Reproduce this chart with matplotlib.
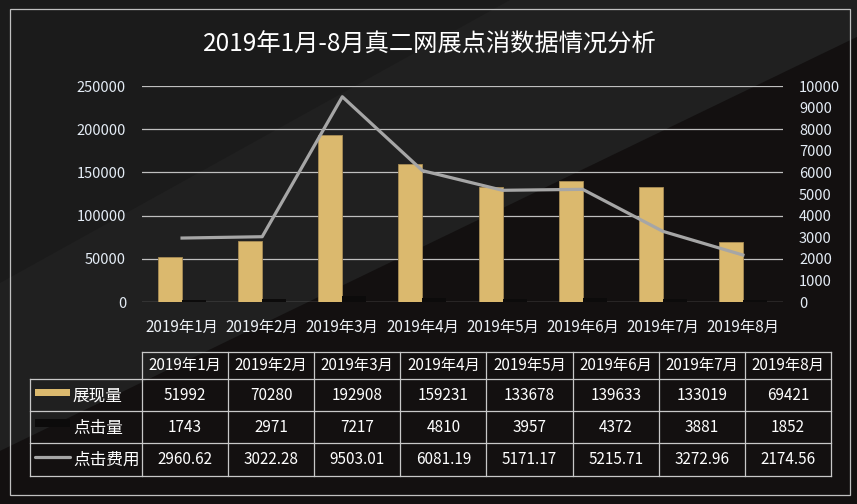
import numpy as np
import matplotlib
matplotlib.use("Agg")
import matplotlib.pyplot as plt
from matplotlib.patches import Polygon, Rectangle

plt.rcParams['font.family'] = ['Noto Sans CJK SC', 'DejaVu Sans']

# ---- data ----
months = ["2019年1月", "2019年2月", "2019年3月", "2019年4月",
          "2019年5月", "2019年6月", "2019年7月", "2019年8月"]
impressions = [51992, 70280, 192908, 159231, 133678, 139633, 133019, 69421]
clicks = [1743, 2971, 7217, 4810, 3957, 4372, 3881, 1852]
cost = [2960.62, 3022.28, 9503.01, 6081.19, 5171.17, 5215.71, 3272.96, 2174.56]
cost_labels = ["2960.62", "3022.28", "9503.01", "6081.19",
               "5171.17", "5215.71", "3272.96", "2174.56"]
series_names = ["展现量", "点击量", "点击费用"]
title = "2019年1月-8月真二网展点消数据情况分析"

W, H = 857, 504
fig = plt.figure(figsize=(W / 100, H / 100), dpi=100)

# ---- background (pixel coordinates) ----
bg = fig.add_axes([0, 0, 1, 1], zorder=0)
bg.set_xlim(0, W)
bg.set_ylim(H, 0)
bg.axis('off')
bg.add_patch(Rectangle((0, 0), W, H, facecolor='#1b1b1b', edgecolor='none'))
bg.add_patch(Polygon([(0, 283), (510, 0), (W, 0), (W, 37), (0, 451)],
                     closed=True, facecolor='#202020', edgecolor='none'))
bg.add_patch(Polygon([(0, 451), (W, 37), (W, H), (0, H)],
                     closed=True, facecolor='#131010', edgecolor='none'))
bg.add_patch(Rectangle((10, 9), 840, 486, facecolor='none',
                       edgecolor='#c0c0c0', lw=0.9))

bg.text(430, 45, title, color='white', fontsize=17.5, ha='center', va='center')

# ---- table ----
tx0, tx1 = 142, 831
cw = (tx1 - tx0) / len(months)
ys = [352, 379, 411, 443, 476]
lc = '#c8c8c8'
lw = 0.9
bg.plot([tx0, tx1], [ys[0], ys[0]], color=lc, lw=lw)
for y in ys[1:]:
    bg.plot([30, tx1], [y, y], color=lc, lw=lw)
bg.plot([30, 30], [ys[1], ys[4]], color=lc, lw=lw)
for k in range(len(months) + 1):
    xx = tx0 + k * cw
    bg.plot([xx, xx], [ys[0], ys[4]], color=lc, lw=lw)

rows = [[str(v) for v in impressions], [str(v) for v in clicks], cost_labels]
for k, m in enumerate(months):
    cx = tx0 + (k + 0.5) * cw
    bg.text(cx, (ys[0] + ys[1]) / 2, m, color='white', fontsize=11,
            ha='center', va='center')
    for r in range(3):
        bg.text(cx, (ys[r + 1] + ys[r + 2]) / 2, rows[r][k], color='white',
                fontsize=11, ha='center', va='center')

# legend keys
bg.add_patch(Rectangle((35, 389), 35, 7, facecolor='#dbb96e', edgecolor='none'))
bg.add_patch(Rectangle((35, 419), 35, 8, facecolor='#0c0b0b', edgecolor='none'))
bg.plot([35, 70], [457, 457], color='#a6a6a6', lw=2.3, solid_capstyle='round')
for r, name in enumerate(series_names):
    bg.text(73, (ys[r + 1] + ys[r + 2]) / 2 + 1, name, color='white',
            fontsize=12, ha='left', va='center')

# ---- chart ----
L, R, T, B = 142, 783, 86, 302
ax = fig.add_axes([L / W, 1 - B / H, (R - L) / W, (B - T) / H], zorder=1)
ax.patch.set_alpha(0)
x = np.arange(len(months))
bw = 0.3
ax.bar(x - bw / 2, impressions, width=bw, color='#dbb96e',
       edgecolor='#a88c55', linewidth=0.6, zorder=3)
ax.bar(x + bw / 2, clicks, width=bw, color='#0c0b0b',
       edgecolor='none', zorder=3)
ax.set_xlim(-0.5, len(months) - 0.5)
ax.set_ylim(0, 250000)
ax.set_yticks(np.arange(0, 250001, 50000))
ax.set_yticklabels([str(v) for v in range(0, 250001, 50000)])
ax.grid(axis='y', color='#bfbfbf', lw=0.9, zorder=0)
ax.set_axisbelow(True)
ax.set_xticks(x)
ax.set_xticklabels(months)
ax.tick_params(axis='x', length=0, pad=12, labelsize=11, labelcolor='#eef2f7')
ax.tick_params(axis='y', length=0, pad=11.5, labelsize=10.5, labelcolor='#e4ecf5')
for s in ax.spines.values():
    s.set_visible(False)

ax2 = ax.twinx()
ax2.patch.set_alpha(0)
ax2.plot(x, cost, color='#a6a6a6', lw=2.3, zorder=5, solid_joinstyle='round')
ax2.set_ylim(0, 10000)
ax2.set_yticks(np.arange(0, 10001, 1000))
ax2.set_yticklabels([str(v) for v in range(0, 10001, 1000)])
ax2.tick_params(axis='y', length=0, pad=11.5, labelsize=10.5, labelcolor='#e4ecf5')
for s in ax2.spines.values():
    s.set_visible(False)

fig.savefig("out.png", dpi=100)
